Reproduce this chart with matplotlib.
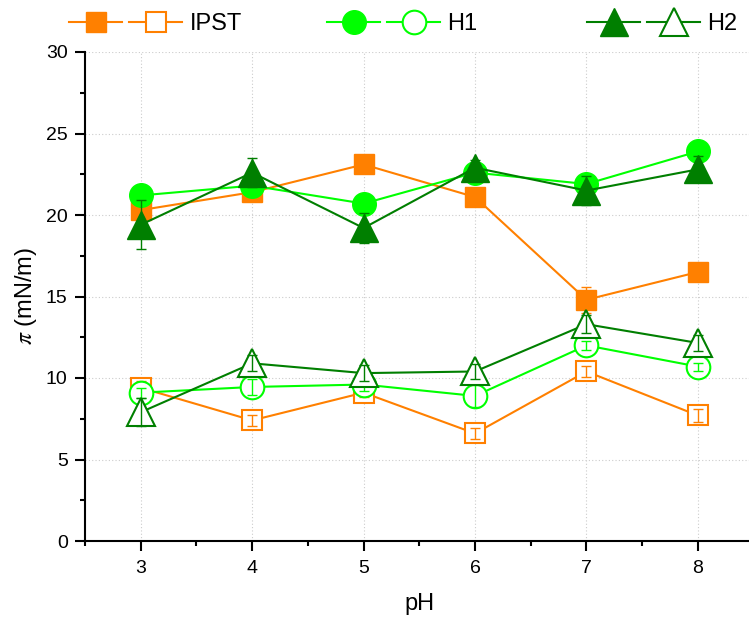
"""Surface pressure vs pH for IPST, H1 and H2 (filled / open series)."""
import matplotlib
matplotlib.use("Agg")
import matplotlib.pyplot as plt  # noqa: E402
from matplotlib.lines import Line2D  # noqa: E402
from matplotlib.legend_handler import HandlerTuple  # noqa: E402
from matplotlib.ticker import MultipleLocator  # noqa: E402

plt.rcParams["font.family"] = ["Liberation Sans", "DejaVu Sans"]
plt.rcParams["mathtext.fontset"] = "stix"

ph = [3, 4, 5, 6, 7, 8]

ipst_hi = [20.3, 21.4, 23.1, 21.1, 14.8, 16.5]
ipst_hi_err = [0.7, 0.4, 0.3, 0.3, 0.8, 0.3]
ipst_lo = [9.4, 7.4, 9.1, 6.6, 10.4, 7.7]
ipst_lo_err = [0.4, 0.35, 0.25, 0.35, 0.35, 0.4]

h1_hi = [21.2, 21.8, 20.7, 22.6, 21.9, 23.9]
h1_hi_err = [0.5, 0.5, 0.3, 0.4, 0.4, 0.3]
h1_lo = [9.1, 9.45, 9.6, 8.9, 12.0, 10.7]
h1_lo_err = [0.3, 0.5, 0.4, 0.65, 0.3, 0.25]

h2_hi = [19.4, 22.6, 19.2, 22.9, 21.5, 22.8]
h2_hi_err = [1.5, 0.9, 0.9, 0.5, 0.9, 0.8]
h2_lo = [7.9, 10.9, 10.3, 10.4, 13.3, 12.15]
h2_lo_err = [0.85, 0.5, 0.5, 0.45, 0.55, 0.5]

ORANGE, LIME, DKGREEN = "#ff8000", "#00ff00", "#007f00"

series = [
    # (name, color, marker, size, hi, hi_err, lo, lo_err)
    ("IPST", ORANGE, "s", 15, ipst_hi, ipst_hi_err, ipst_lo, ipst_lo_err),
    ("H1", LIME, "o", 17, h1_hi, h1_hi_err, h1_lo, h1_lo_err),
    ("H2", DKGREEN, "^", 19.5, h2_hi, h2_hi_err, h2_lo, h2_lo_err),
]

fig = plt.figure(figsize=(7.49, 6.17), dpi=100)
ax = fig.add_axes([85 / 749, 1 - 541 / 617, 668.6 / 749, 489 / 617])

legend_x = [69, 327, 587]  # left edge of each legend entry, px
z = 3
for (name, col, mk, ms, hi, hie, lo, loe), lx in zip(series, legend_x):
    ax.plot(ph, hi, color=col, lw=1.5, marker=mk, ms=ms, mfc=col, mec=col, zorder=z)
    ax.errorbar(ph, hi, yerr=hie, fmt="none", ecolor=col, elinewidth=1,
                capsize=3.5, capthick=1, zorder=z + 0.5)
    ax.plot(ph, lo, color=col, lw=1.5, marker=mk, ms=ms, mfc="white", mec=col,
            mew=1.5, zorder=z)
    ax.errorbar(ph, lo, yerr=loe, fmt="none", ecolor=col, elinewidth=1,
                capsize=3.5, capthick=1, zorder=z + 0.5)
    z += 1

    h_fill = Line2D([], [], color=col, lw=1.5, marker=mk, ms=ms, mfc=col, mec=col)
    h_open = Line2D([], [], color=col, lw=1.5, marker=mk, ms=ms, mfc="white",
                    mec=col, mew=1.5)
    fig.legend([(h_fill, h_open)], [name], loc="center left",
               bbox_to_anchor=(lx / 749, 1 - 24 / 617), frameon=False,
               borderpad=0, borderaxespad=0, handlelength=4.8, handletextpad=0.3,
               numpoints=1, fontsize=17,
               handler_map={tuple: HandlerTuple(ndivide=None, pad=0.3)})

ax.set_xlim(2.5, 8.5)
ax.set_ylim(0, 30)
ax.xaxis.set_major_locator(MultipleLocator(1))
ax.xaxis.set_minor_locator(MultipleLocator(0.5))
ax.yaxis.set_major_locator(MultipleLocator(5))
ax.yaxis.set_minor_locator(MultipleLocator(2.5))
ax.tick_params(which="major", direction="out", length=7, width=1.5, labelsize=14)
ax.tick_params(axis="x", which="major", pad=7)
ax.tick_params(axis="y", which="major", pad=5.5)
ax.tick_params(which="minor", direction="out", length=3.5, width=1.5)
for s in ("top", "right"):
    ax.spines[s].set_visible(False)
for s in ("left", "bottom"):
    ax.spines[s].set_linewidth(1.5)
ax.grid(True, which="major", ls=(0, (1, 2)), color="#cccccc", lw=0.8, zorder=0)
ax.set_axisbelow(True)

ax.set_xlabel("pH", fontsize=17, labelpad=11)
ax.set_ylabel(r"$\pi$ (mN/m)", fontsize=17, labelpad=5)

fig.savefig("out.png", dpi=100)
